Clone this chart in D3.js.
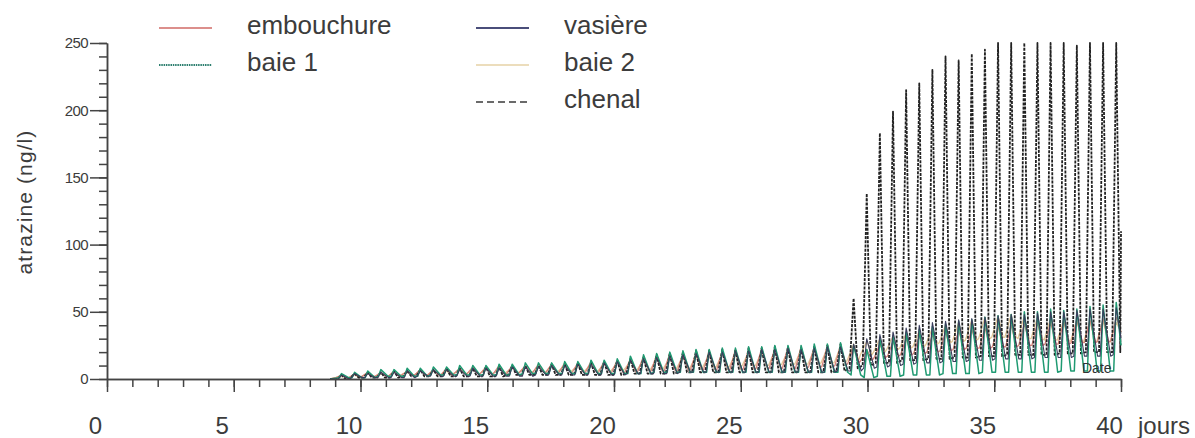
<!DOCTYPE html>
<html>
<head>
<meta charset="utf-8">
<script src="https://cdn.jsdelivr.net/npm/d3@7"></script>
<style>
  body { margin: 0; background: #fff; }
  svg { display: block; font-family: "Liberation Sans", Arial, sans-serif; }
</style>
</head>
<body>
<div id="chart"></div>
<script>
// tidal cycles: one peak every tidePeriod days, starting at cycleStart
var startDay = 8.8, endDay = 40, cycleStart = 9.25, tidePeriod = 0.518;

var xTicks = [0, 5, 10, 15, 20, 25, 30, 35, 40];
var yTicks = [0, 50, 100, 150, 200, 250];

var chenalPeak = [3,4,5,5,6,6,7,7,8,8, 8,9,9,10,10,10,11,11,12,12, 13,14,15,16,18,19,20,21,21,22,
  22,23,23,24,24,23,24,25,26, 60,
  138,183,199,215,220,230,240,237,242,245,250,250,250,250,250,250,248,250,250,250];
var chenalLow = [0,1,1,1,1,2,2,2,2,2, 2,2,2,3,3,3,3,3,3,3, 3,3,4,4,4,4,5,5,5,5,
  5,5,5,5,5,5,5,5,6, 8,
  10,12,12,14,14,15,15,16,16,17,17,18,18,18,18,19,19,20,20,20];

var baie1Peak = [4,5,6,7,7,8,8,9,9,10, 10,10,11,11,12,12,12,13,13,14, 14,15,17,18,19,20,21,22,22,23,
  23,24,24,25,25,25,26,26,27, 25,
  22,30,32,35,37,39,41,43,44,46,47,48,50,50,52,51,52,54,55,57];
var baie1Low = [1,1,1,2,2,2,2,3,3,3, 3,3,3,3,4,4,4,4,4,4, 4,4,4,4,5,5,5,5,5,5,
  5,5,5,5,5,5,5,5,5, 3,
  1,2,2,3,3,3,4,4,4,5,5,5,5,5,5,6,6,6,6,6];

var embouchurePeak = [3,4,5,5,6,6,7,7,8,8, 9,9,10,10,10,11,11,12,12,13, 13,14,15,17,18,19,19,20,21,21,
  22,22,23,23,24,24,24,25,25, 24,
  22,26,28,30,32,33,35,36,37,38,39,40,41,42,42,43,44,44,45,46];
var embouchureLow = [1,1,2,2,2,3,3,3,3,4, 4,4,4,4,5,5,5,5,5,5, 5,5,5,6,6,6,6,7,7,7,
  7,7,8,8,8,8,9,9,10, 12,
  14,16,17,18,19,20,21,22,23,23,24,24,25,25,26,26,27,27,28,28];

var vasierePeak = [3,4,4,5,5,6,6,7,7,7, 8,8,8,9,9,9,10,10,11,11, 12,13,14,15,16,17,18,19,20,20,
  21,21,22,22,23,22,23,24,24, 26,
  30,33,35,38,40,42,43,44,45,46,47,48,48,49,50,50,51,52,52,53];
var vasiereLow = [0,1,1,1,1,1,2,2,2,2, 2,2,2,2,2,3,3,3,3,3, 3,3,4,4,4,4,5,5,5,5,
  5,5,5,5,5,5,5,5,6, 6,
  8,9,10,11,12,12,13,13,14,14,15,15,15,16,16,16,17,17,17,18];

var baie2Peak = [2,3,4,4,5,5,6,6,6,7, 7,8,8,8,9,9,10,10,10,11, 11,12,13,14,15,16,17,17,18,19,
  19,20,20,21,21,22,22,23,24, 26,
  28,30,32,34,36,38,40,42,44,46,47,48,47,46,45,44,44,43,43,42];
var baie2Low = [1,1,2,2,2,3,3,3,3,4, 4,4,4,5,5,5,5,6,6,6, 6,6,7,7,7,8,8,8,9,9,
  9,10,10,10,11,11,11,12,12, 14,
  18,20,22,23,24,26,27,28,29,30,31,31,30,30,29,29,28,28,28,27];

var endValues = { chenal: 110, baie1: 25, embouchure: 35, vasiere: 30, baie2: 35 };

var width = 1195, height = 438;

var x = d3.scaleLinear().domain([0, 40]).range([107, 1121]);
var y = d3.scaleLinear().domain([0, 250]).range([379, 43]);

var svg = d3.select("#chart").append("svg")
  .attr("width", width)
  .attr("height", height);

function tideSeries(peaks, lows, rise, fall, endValue) {
  var pts = [[startDay, 0]];
  peaks.forEach(function (p, i) {
    var t = cycleStart + i * tidePeriod;
    pts.push([t - rise, lows[i]], [t, p], [t + fall, lows[i]]);
  });
  pts = pts.filter(function (d) { return d[0] < endDay; });
  pts.push([endDay, endValue]);
  return pts;
}

var line = d3.line()
  .x(function (d) { return x(d[0]); })
  .y(function (d) { return y(d[1]); });

var series = [
  { name: "baie 2", data: tideSeries(baie2Peak, baie2Low, 0.25, 0.2, endValues.baie2), color: "#e4c99a", dash: null, w: 1.3 },
  { name: "embouchure", data: tideSeries(embouchurePeak, embouchureLow, 0.22, 0.22, endValues.embouchure), color: "#d9847c", dash: null, w: 1.3 },
  { name: "chenal", data: tideSeries(chenalPeak, chenalLow, 0.16, 0.16, endValues.chenal), color: "#222", dash: "3,1.2", w: 1.8 },
  { name: "baie 1", data: tideSeries(baie1Peak, baie1Low, 0.1, 0.28, endValues.baie1), color: "#1f9a72", dash: null, w: 1.5 },
  { name: "vasière", data: tideSeries(vasierePeak, vasiereLow, 0.12, 0.3, endValues.vasiere), color: "#3a3d5c", dash: null, w: 1.1 }
];

svg.append("g").selectAll("path")
  .data(series)
  .enter().append("path")
  .attr("d", function (d) { return line(d.data); })
  .attr("fill", "none")
  .attr("stroke", function (d) { return d.color; })
  .attr("stroke-width", function (d) { return d.w; })
  .attr("stroke-dasharray", function (d) { return d.dash; })
  .attr("stroke-linejoin", "round");

// axes
var axisColor = "#444";
var textColor = "#3c3c3c";

svg.append("g")
  .attr("transform", "translate(0," + y(0) + ")")
  .call(d3.axisBottom(x).tickValues(d3.range(0, 41)).tickSize(8).tickSizeOuter(0).tickFormat(""));
var xMajor = svg.append("g")
  .attr("transform", "translate(0," + y(0) + ")")
  .call(d3.axisBottom(x).tickValues(xTicks).tickSize(13).tickSizeOuter(0));
xMajor.selectAll("text")
  .attr("dy", null)
  .attr("y", 55)
  .attr("dx", -12)
  .attr("font-size", 24)
  .attr("font-family", "Liberation Sans, Arial, sans-serif")
  .attr("fill", textColor);

svg.append("g")
  .attr("transform", "translate(" + x(0) + ",0)")
  .call(d3.axisLeft(y).tickValues(d3.range(0, 251, 10)).tickSize(8).tickSizeOuter(0).tickFormat(""));
var yMajor = svg.append("g")
  .attr("transform", "translate(" + x(0) + ",0)")
  .call(d3.axisLeft(y).tickValues(yTicks).tickSize(17).tickPadding(2).tickSizeOuter(0));
yMajor.selectAll("text")
  .attr("font-size", 15)
  .attr("letter-spacing", -0.6)
  .attr("font-family", "Liberation Sans, Arial, sans-serif")
  .attr("fill", textColor);

svg.selectAll(".domain, .tick line")
  .attr("stroke", axisColor)
  .attr("stroke-width", 1.5);

svg.append("text")
  .attr("x", 1138).attr("y", 434)
  .attr("font-size", 24)
  .attr("fill", textColor)
  .text("jours");

svg.append("text")
  .attr("transform", "translate(32,202) rotate(-90)")
  .attr("text-anchor", "middle")
  .attr("font-size", 21)
  .attr("letter-spacing", 1.1)
  .attr("fill", textColor)
  .text("atrazine (ng/l)");

svg.append("text")
  .attr("x", 1082).attr("y", 373)
  .attr("font-size", 14)
  .attr("fill", "#333")
  .text("Date");

// legend
var legendItems = [
  { name: "embouchure", color: "#d06a66", dash: null, w: 1.5, col: 0, row: 0 },
  { name: "baie 1", color: "#2d7f6f", dash: "1.5,0.8", w: 2, col: 0, row: 1 },
  { name: "vasière", color: "#4a4e7a", dash: null, w: 1.8, col: 1, row: 0 },
  { name: "baie 2", color: "#e6d2a6", dash: null, w: 1.6, col: 1, row: 1 },
  { name: "chenal", color: "#3a3a3a", dash: "7,4", w: 1.6, col: 1, row: 2 }
];
var colX = [159, 476], rowY = [34, 71, 108];

var leg = svg.append("g").selectAll("g")
  .data(legendItems)
  .enter().append("g")
  .attr("transform", function (d) { return "translate(" + colX[d.col] + "," + rowY[d.row] + ")"; });
leg.append("line")
  .attr("x1", 0).attr("x2", 53)
  .attr("y1", -6).attr("y2", -6)
  .attr("stroke", function (d) { return d.color; })
  .attr("stroke-width", function (d) { return d.w; })
  .attr("stroke-dasharray", function (d) { return d.dash; });
leg.append("text")
  .attr("x", 88)
  .attr("font-size", 26)
  .attr("fill", textColor)
  .text(function (d) { return d.name; });
</script>
</body>
</html>
